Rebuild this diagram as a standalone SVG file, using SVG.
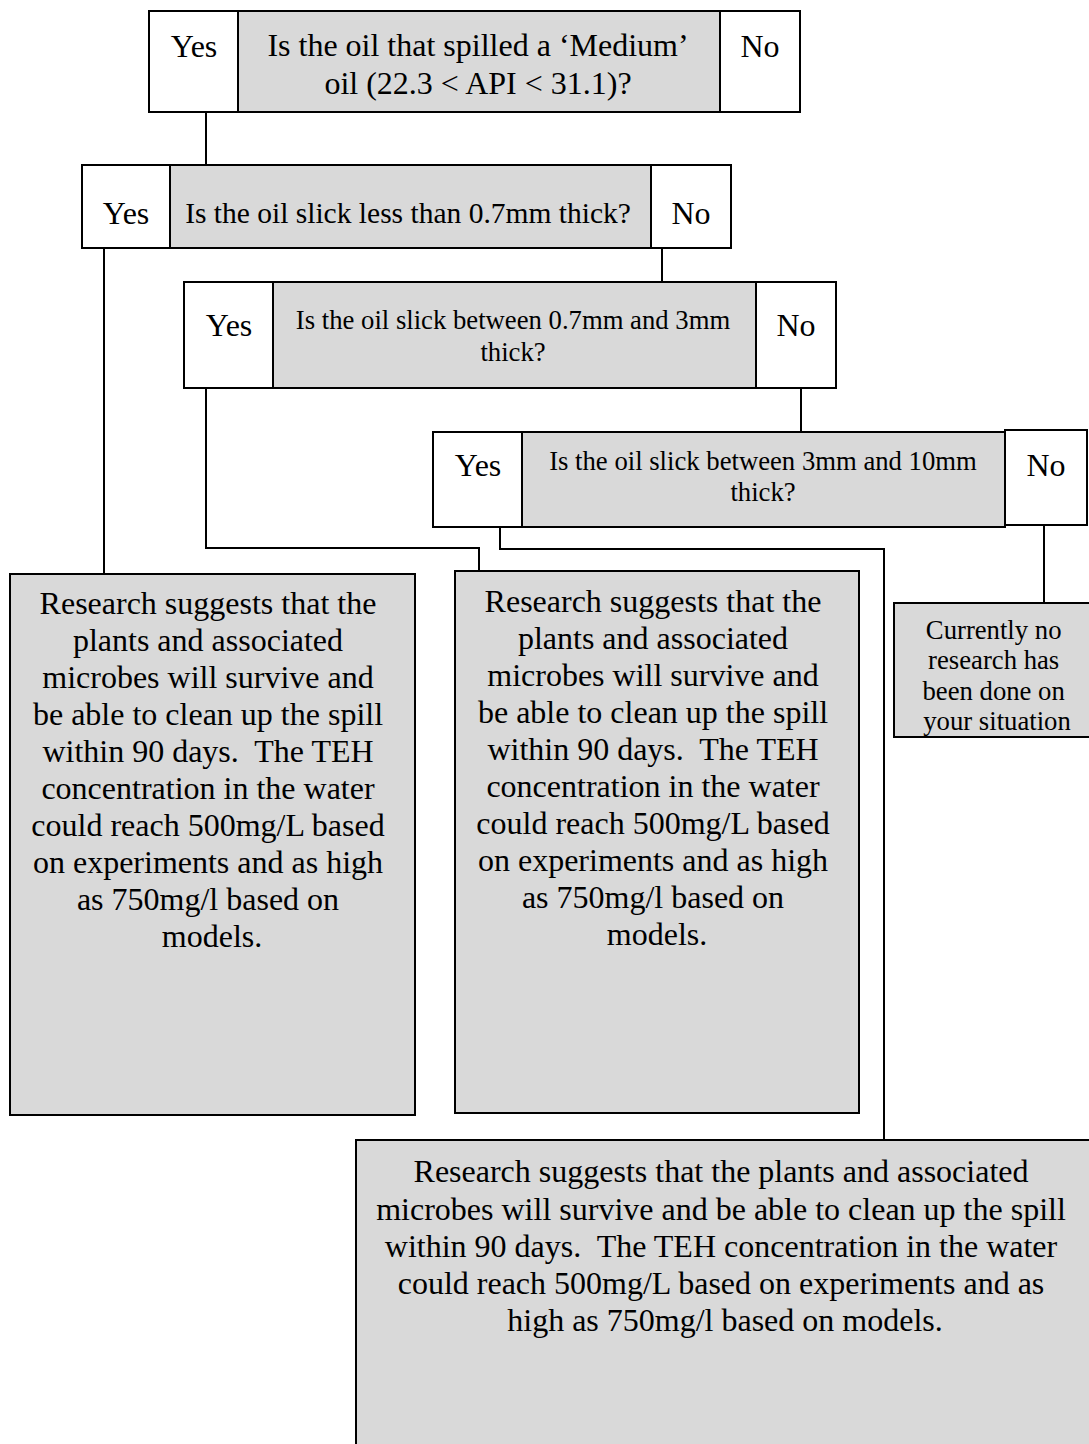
<svg xmlns="http://www.w3.org/2000/svg" width="1089" height="1444" viewBox="0 0 1089 1444">
<style>
.w{fill:#ffffff;stroke:#000;stroke-width:2}
.g{fill:#d9d9d9;stroke:#000;stroke-width:2}
.c{fill:none;stroke:#000;stroke-width:2}
text{font-family:"Liberation Serif","Times New Roman",serif;fill:#000;text-anchor:middle}
.t32{font-size:32px}
.t29{font-size:29.5px}
.t27{font-size:26.7px}
</style>
<rect width="1089" height="1444" fill="#fff"/>
<g id="connectors">
<path class="c" d="M206,112 V165"/>
<path class="c" d="M104,248 V574"/>
<path class="c" d="M662,248 V282"/>
<path class="c" d="M206,388 V548 H479 V571"/>
<path class="c" d="M801,388 V432"/>
<path class="c" d="M500,527 V549 H884 V1140"/>
<path class="c" d="M1044,525 V603"/>
</g>
<g id="q1">
<rect class="w" x="149" y="11" width="89" height="101"/>
<rect class="g" x="238" y="11" width="482" height="101"/>
<rect class="w" x="720" y="11" width="80" height="101"/>
<text class="t32" x="194" y="57">Yes</text>
<text class="t32" x="478" y="56">Is the oil that spilled a ‘Medium’</text>
<text class="t32" x="478" y="94">oil (22.3 &lt; API &lt; 31.1)?</text>
<text class="t32" x="760" y="57">No</text>
</g>
<g id="q2">
<rect class="w" x="82" y="165" width="88" height="83"/>
<rect class="g" x="170" y="165" width="481" height="83"/>
<rect class="w" x="651" y="165" width="80" height="83"/>
<text class="t32" x="126" y="224">Yes</text>
<text class="t29" x="408" y="223">Is the oil slick less than 0.7mm thick?</text>
<text class="t32" x="691" y="224">No</text>
</g>
<g id="q3">
<rect class="w" x="184" y="282" width="89" height="106"/>
<rect class="g" x="273" y="282" width="483" height="106"/>
<rect class="w" x="756" y="282" width="80" height="106"/>
<text class="t32" x="229" y="336">Yes</text>
<text class="t27" x="513" y="329">Is the oil slick between 0.7mm and 3mm</text>
<text class="t27" x="513" y="361">thick?</text>
<text class="t32" x="796" y="336">No</text>
</g>
<g id="q4">
<rect class="w" x="433" y="432" width="89" height="95"/>
<rect class="g" x="522" y="432" width="483" height="95"/>
<rect class="w" x="1005" y="430" width="82" height="95"/>
<text class="t32" x="478" y="476">Yes</text>
<text class="t27" x="763" y="470">Is the oil slick between 3mm and 10mm</text>
<text class="t27" x="763" y="501">thick?</text>
<text class="t32" x="1046" y="476">No</text>
</g>
<g id="r1">
<rect class="g" x="10" y="574" width="405" height="541"/>
<text class="t32">
<tspan x="212" y="614">Research suggests that the</tspan>
<tspan x="212" y="651">plants and associated</tspan>
<tspan x="212" y="688">microbes will survive and</tspan>
<tspan x="212" y="725">be able to clean up the spill</tspan>
<tspan x="212" y="762">within 90 days.&#160; The TEH</tspan>
<tspan x="212" y="799">concentration in the water</tspan>
<tspan x="212" y="836">could reach 500mg/L based</tspan>
<tspan x="212" y="873">on experiments and as high</tspan>
<tspan x="212" y="910">as 750mg/l based on</tspan>
<tspan x="212" y="947">models.</tspan>
</text>
</g>
<g id="r2">
<rect class="g" x="455" y="571" width="404" height="542"/>
<text class="t32">
<tspan x="657" y="612">Research suggests that the</tspan>
<tspan x="657" y="649">plants and associated</tspan>
<tspan x="657" y="686">microbes will survive and</tspan>
<tspan x="657" y="723">be able to clean up the spill</tspan>
<tspan x="657" y="760">within 90 days.&#160; The TEH</tspan>
<tspan x="657" y="797">concentration in the water</tspan>
<tspan x="657" y="834">could reach 500mg/L based</tspan>
<tspan x="657" y="871">on experiments and as high</tspan>
<tspan x="657" y="908">as 750mg/l based on</tspan>
<tspan x="657" y="945">models.</tspan>
</text>
</g>
<g id="r3">
<rect class="g" x="894" y="603" width="200" height="134"/>
<text class="t27">
<tspan x="997" y="639">Currently no</tspan>
<tspan x="997" y="669">research has</tspan>
<tspan x="997" y="700">been done on</tspan>
<tspan x="997" y="730">your situation</tspan>
</text>
</g>
<g id="r4">
<rect class="g" x="356" y="1140" width="740" height="310"/>
<text class="t32">
<tspan x="725" y="1182">Research suggests that the plants and associated</tspan>
<tspan x="725" y="1220">microbes will survive and be able to clean up the spill</tspan>
<tspan x="725" y="1257">within 90 days.&#160; The TEH concentration in the water</tspan>
<tspan x="725" y="1294">could reach 500mg/L based on experiments and as</tspan>
<tspan x="725" y="1331">high as 750mg/l based on models.</tspan>
</text>
</g>
</svg>
